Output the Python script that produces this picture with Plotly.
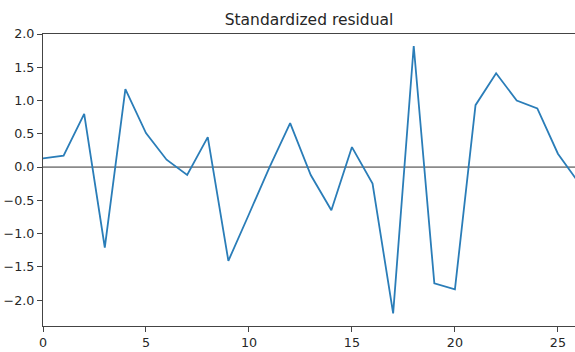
import plotly.graph_objects as go

# Standardized residuals by observation index
obs = list(range(27))
resid = [0.13, 0.17, 0.80, -1.21, 1.17, 0.51, 0.11, -0.12, 0.45, -1.41,
         -0.71, 0.00, 0.66, -0.12, -0.65, 0.30, -0.25, -2.20, 1.82, -1.75,
         -1.84, 0.93, 1.41, 1.00, 0.88, 0.20, -0.23]

x_ticks = [0, 5, 10, 15, 20, 25]
y_ticks = [2.0, 1.5, 1.0, 0.5, 0.0, -0.5, -1.0, -1.5, -2.0]

fig = go.Figure()
fig.add_hline(y=0, line=dict(color="#8a8a8a", width=1.8), layer="below")
fig.add_trace(go.Scatter(x=obs, y=resid, mode="lines",
                         line=dict(color="#2a7db8", width=1.8),
                         showlegend=False, hoverinfo="skip"))

axis_font = dict(family="DejaVu Sans", size=12.7, color="#262626")
fig.update_layout(
    width=575, height=352,
    margin=dict(l=43, r=0, t=34, b=26),
    paper_bgcolor="white", plot_bgcolor="white",
    title=dict(text="Standardized residual", x=0.5, xref="paper",
               y=1 - 20 / 352, yanchor="middle",
               font=dict(family="DejaVu Sans", size=15.5, color="#262626")),
    xaxis=dict(range=[0, 25.83], tickvals=x_ticks, showgrid=False,
               zeroline=False, showline=True, linecolor="#444444",
               linewidth=1.2, mirror=True, ticks="outside", ticklen=5,
               tickcolor="#444444", tickfont=axis_font),
    yaxis=dict(range=[-2.39, 2.0], tickvals=y_ticks, tickformat=".1f",
               showgrid=False, zeroline=False, showline=True,
               linecolor="#444444", linewidth=1.2, ticks="outside",
               ticklen=5, tickcolor="#444444", tickfont=axis_font),
)

fig.write_html("out.html")
